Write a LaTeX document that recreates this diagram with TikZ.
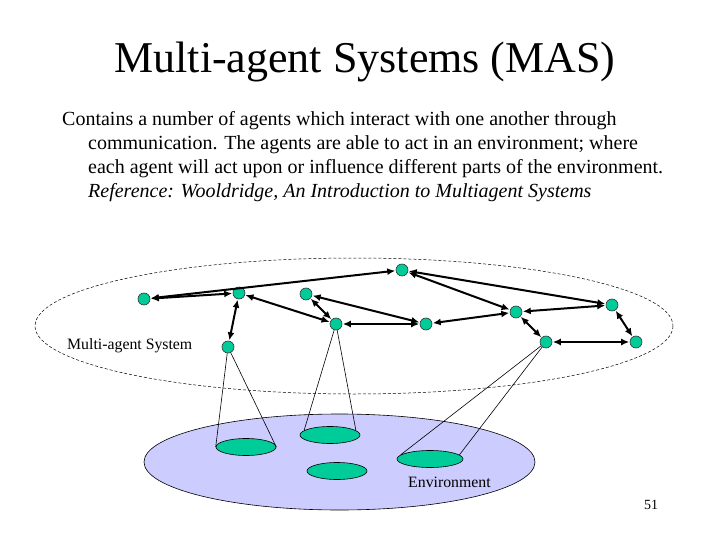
\documentclass[tikz,border=0pt]{standalone}
\usepackage{fontspec}
\setmainfont{Liberation Serif}
\usetikzlibrary{arrows.meta,shapes.geometric}
\definecolor{agentfill}{RGB}{0,204,153}
\definecolor{envfill}{RGB}{204,204,255}
\tikzset{
  agent/.style={circle, draw=black!80, line width=0.6pt, fill=agentfill, minimum size=12pt, inner sep=0pt},
  spot/.style={ellipse, draw=black, line width=0.6pt, fill=agentfill, minimum width=60pt, minimum height=17pt, inner sep=0pt},
  comm/.style={{Latex[length=8pt,width=7pt]}-{Latex[length=8pt,width=7pt]}, line width=2pt, shorten <=0.5pt, shorten >=0.5pt},
  cone/.style={line width=0.6pt},
  body/.style={anchor=base west, inner sep=0pt, font=\fontsize{20}{24}\selectfont},
  lbl/.style={anchor=base west, inner sep=0pt, font=\fontsize{15.8}{18}\selectfont}
}
\begin{document}
\begin{tikzpicture}[x=1pt,y=-1pt]
\useasboundingbox (0,0) rectangle (720,540);
\fill[white] (0,0) rectangle (720,540);

% title and text
\node[anchor=base, inner sep=0pt, font=\fontsize{44}{50}\selectfont] (title) at (365,73) {Multi-agent Systems (MAS)};
\node[body] (t1) at (62,126) {Contains a number of agents which interact with one another through};
\node[body] (t2) at (88,150) {communication. The agents are able to act in an environment; where};
\node[body] (t3) at (88,174) {each agent will act upon or influence different parts of the environment.};
\node[body, font=\fontsize{20}{24}\selectfont\itshape] (t4) at (88,197) {Reference: Wooldridge, An Introduction to Multiagent Systems};

% multi-agent system boundary
\draw[line width=0.5pt, dash pattern=on 3pt off 2pt] (354,326) ellipse [x radius=319, y radius=68];
\node[lbl] (mas) at (67,349) {Multi-agent System};

% environment
\draw[fill=envfill, line width=0.6pt] (339.5,462) ellipse [x radius=195.5, y radius=48];
\node[lbl] (env) at (408,487) {Environment};
\node[spot] (s1) at (246,447) {};
\node[spot] (s2) at (330,435) {};
\node[spot] (s3) at (337,471) {};
\node[spot, minimum width=66pt] (s4) at (430,459) {};

% agents
\node[agent] (a1) at (144,299) {};
\node[agent] (a2) at (239,293) {};
\node[agent] (a3) at (306,294) {};
\node[agent] (a4) at (336,324) {};
\node[agent] (a5) at (228,347) {};
\node[agent] (b1) at (402,270) {};
\node[agent] (b2) at (426,324) {};
\node[agent] (b3) at (516,312) {};
\node[agent] (b4) at (612,305) {};
\node[agent] (b5) at (546,342) {};
\node[agent] (b6) at (636,342) {};

% cones of influence
\draw[cone] (a5) -- (s1.west);
\draw[cone] (a5) -- (s1.east);
\draw[cone] (a4) -- (s2.170);
\draw[cone] (a4) -- (s2.10);
\draw[cone] (b5) -- (s4.172);
\draw[cone] (b5) -- (s4.8);

% communication
\draw[comm] (a1) -- (a2);
\draw[comm] (a1) -- (b1);
\draw[comm] (a2) -- (a5);
\draw[comm] (a2) -- (a4);
\draw[comm] (a3) -- (a4);
\draw[comm] (a3) -- (b2);
\draw[comm] (a4) -- (b2);
\draw[comm] (b1) -- (b3);
\draw[comm] (b1) -- (b4);
\draw[comm] (b2) -- (b3);
\draw[comm] (b3) -- (b4);
\draw[comm] (b3) -- (b5);
\draw[comm] (b5) -- (b6);
\draw[comm] (b4) -- (b6);

% page number
\node[anchor=base, inner sep=0pt, font=\fontsize{14}{16}\selectfont] (pg) at (651,509) {51};
\end{tikzpicture}
\end{document}
